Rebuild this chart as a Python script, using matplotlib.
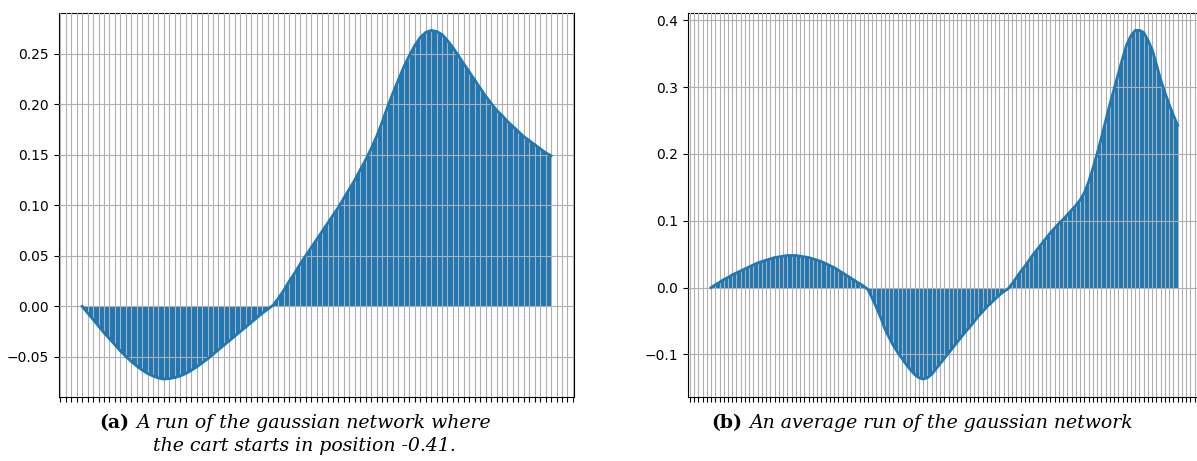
import matplotlib
matplotlib.use("Agg")
import matplotlib.pyplot as plt
from matplotlib.ticker import MultipleLocator

# reward per step, single run (cart starting at -0.41)
run_values = [
    0.000, -0.0065, -0.013, -0.0195, -0.026, -0.032, -0.038, -0.044, -0.0495, -0.0545,
    -0.059, -0.063, -0.0665, -0.069, -0.071, -0.072, -0.0715, -0.0705, -0.069, -0.0665,
    -0.0635, -0.060, -0.056, -0.052, -0.0475, -0.043, -0.0385, -0.034, -0.0295, -0.025,
    -0.0205, -0.016, -0.0115, -0.007, -0.003, 0.001, 0.008, 0.016, 0.025, 0.033,
    0.042, 0.050, 0.058, 0.066, 0.074, 0.082, 0.090, 0.098, 0.107, 0.116,
    0.125, 0.135, 0.145, 0.156, 0.168, 0.182, 0.197, 0.211, 0.224, 0.237,
    0.248, 0.258, 0.266, 0.271, 0.273, 0.272, 0.269, 0.263, 0.256, 0.248,
    0.240, 0.232, 0.224, 0.216, 0.208, 0.201, 0.194, 0.189, 0.183, 0.178,
    0.173, 0.168, 0.164, 0.160, 0.156, 0.152, 0.149,
]

# reward per step, averaged over runs
avg_values = [
    0.000, 0.004, 0.008, 0.012, 0.015, 0.019, 0.022, 0.025, 0.028, 0.031,
    0.034, 0.037, 0.039, 0.041, 0.043, 0.045, 0.046, 0.047, 0.048, 0.048,
    0.048, 0.047, 0.046, 0.045, 0.043, 0.041, 0.039, 0.036, 0.033, 0.030,
    0.026, 0.022, 0.018, 0.014, 0.010, 0.006, 0.002, -0.003, -0.016, -0.030,
    -0.045, -0.062, -0.075, -0.087, -0.097, -0.106, -0.115, -0.123, -0.130, -0.135,
    -0.137, -0.135, -0.130, -0.122, -0.114, -0.106, -0.098, -0.090, -0.082, -0.074,
    -0.066, -0.059, -0.051, -0.043, -0.036, -0.029, -0.023, -0.017, -0.011, -0.006,
    -0.002, 0.006, 0.015, 0.024, 0.032, 0.041, 0.050, 0.058, 0.066, 0.074,
    0.082, 0.089, 0.096, 0.102, 0.109, 0.116, 0.123, 0.131, 0.142, 0.158,
    0.178, 0.200, 0.224, 0.249, 0.274, 0.297, 0.320, 0.343, 0.364, 0.377,
    0.385, 0.385, 0.382, 0.370, 0.356, 0.334, 0.311, 0.292, 0.274, 0.258,
    0.243,
]

W, H = 1197, 461
fig = plt.figure(figsize=(W / 100, H / 100), dpi=100)

def px_axes(x0, x1, y0, y1):
    return fig.add_axes([x0 / W, 1 - y1 / H, (x1 - x0) / W, (y1 - y0) / H])

ax1 = px_axes(58.7, 574.5, 13, 396.5)
ax2 = px_axes(687.7, 1201, 13, 396.5)

for ax, vals in [(ax1, run_values), (ax2, avg_values)]:
    steps = list(range(len(vals)))
    ax.fill_between(steps, vals, 0, color="C0", lw=0, zorder=1)
    ax.plot(steps, vals, color="C0", lw=2, zorder=3)
    ax.xaxis.set_major_locator(MultipleLocator(1))
    ax.tick_params(axis="x", labelbottom=False)
    ax.set_axisbelow(False)
    ax.grid(True, color="#b0b0b0", lw=0.8)

ax1.set_yticks([-0.05, 0.0, 0.05, 0.10, 0.15, 0.20, 0.25])

cap_font = "DejaVu Serif"
fs = 13.6
ta = fig.text(99 / W, 1 - 428 / H, "(a)", family=cap_font, weight="bold", fontsize=fs)
fig.text(136 / W, 1 - 428 / H, "A run of the gaussian network where",
         family=cap_font, style="italic", fontsize=fs)
fig.text(304 / W, 1 - 451 / H, "the cart starts in position -0.41.",
         family=cap_font, style="italic", fontsize=fs, ha="center")
fig.text(711 / W, 1 - 428 / H, "(b)", family=cap_font, weight="bold", fontsize=fs)
fig.text(749 / W, 1 - 428 / H, "An average run of the gaussian network",
         family=cap_font, style="italic", fontsize=fs)

fig.savefig("out.png", dpi=100)
